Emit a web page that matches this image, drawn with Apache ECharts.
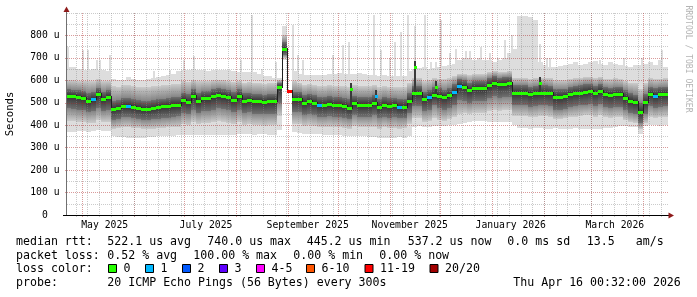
<!DOCTYPE html>
<html>
<head>
<meta charset="utf-8">
<script src="https://cdn.jsdelivr.net/npm/echarts@6/dist/echarts.min.js"></script>
<style>html,body{margin:0;padding:0;background:#fff}#chart{width:697px;height:297px}</style>
</head>
<body>
<div id="chart"></div>
<script>
// ---------------- DATA ----------------
const DAY = 86400000;
const axisMin = Date.UTC(2025, 3, 21, 16, 0);
const axisMax = Date.UTC(2026, 3, 16, 0, 32);
const columnDays = 3;               // one smoke column = 3 days
const columnCount = 120;

// median RTT per column (microseconds)
const median = [
 530,528,525,520,510,515,538,518,526,474,
 478,487,487,482,478,472,472,477,480,484,
 486,490,492,512,505,530,510,520,522,528,
 535,530,526,514,530,510,513,508,507,502,
 508,508,572,740,553,515,515,500,508,500,
 490,490,495,490,490,485,478,500,490,490,
 490,500,483,490,486,488,480,483,510,542,
 542,515,525,535,532,525,535,550,575,570,
 558,567,565,565,580,590,583,585,587,545,
 545,545,537,542,545,545,542,525,525,528,
 537,542,545,550,553,543,553,537,535,540,
 538,522,508,502,458,505,540,532,537,540];
// lowest ping of the column
const pingMin = [
 372,370,375,376,372,375,378,376,374,352,
 348,346,345,345,344,344,346,348,350,350,
 352,352,355,355,355,356,358,357,356,358,
 358,356,357,358,360,362,360,358,360,360,
 358,358,380,690,null,370,365,362,360,362,
 360,358,356,355,355,352,350,352,350,350,
 348,346,345,344,344,345,346,345,350,392,
 395,394,392,395,396,398,400,402,405,410,
 415,418,418,418,416,415,415,414,415,400,
 388,386,385,386,387,385,384,386,385,385,
 384,386,385,384,384,385,384,386,388,390,
 395,395,392,390,360,398,400,400,398,400];
// lower edge of the medium smoke
const lowerMid = [
 420,418,416,414,410,412,422,414,416,385,
 386,390,390,388,386,382,382,385,386,388,
 390,392,394,405,400,415,404,410,412,415,
 418,415,412,405,414,402,405,400,400,398,
 400,400,440,700,null,405,405,395,400,395,
 390,390,392,390,390,386,382,395,390,390,
 390,394,385,390,386,388,384,386,405,430,
 430,415,420,432,425,420,428,436,452,455,
 450,455,455,455,462,468,464,466,466,440,
 440,440,435,438,440,440,438,428,428,430,
 435,438,440,444,446,438,446,435,434,436,
 435,425,415,410,385,412,438,432,436,438];
// lower edge of the dark core
const lowerDark = [
 475,472,470,466,458,462,478,465,470,425,
 428,435,435,430,428,422,422,426,428,432,
 434,438,440,456,450,470,455,462,465,470,
 475,472,468,458,470,455,458,452,452,448,
 452,452,500,715,null,460,458,446,452,446,
 438,438,442,438,438,434,428,445,438,438,
 438,446,432,438,434,436,430,432,455,485,
 485,462,470,488,476,470,478,490,512,510,
 500,508,506,506,520,528,522,524,526,488,
 488,488,482,486,488,488,486,470,470,472,
 480,485,488,492,495,486,495,480,478,482,
 480,466,454,448,410,450,484,476,480,484];
// upper edge of the dark core
const upperDark = [
 560,558,556,552,545,548,565,550,556,510,
 512,520,520,516,512,508,508,512,515,518,
 520,524,526,545,538,560,542,552,554,560,
 565,560,556,546,560,542,545,540,540,535,
 540,540,590,770,null,548,546,535,540,535,
 525,525,530,525,525,520,515,532,525,525,
 525,533,518,524,520,522,515,518,545,575,
 575,548,558,570,565,558,568,582,605,600,
 590,598,596,596,610,618,612,614,616,578,
 578,578,570,575,578,578,575,560,560,562,
 570,575,578,582,585,576,585,570,568,572,
 570,555,542,536,500,540,572,565,570,572];
// upper edge of the medium smoke
const upperMid = [
 602,600,598,596,595,598,605,598,598,575,
 572,578,580,576,572,570,572,575,576,578,
 580,582,585,595,592,600,596,598,598,600,
 602,600,598,592,598,590,592,590,588,585,
 588,588,600,800,null,595,590,580,585,580,
 575,575,578,576,576,574,570,580,576,575,
 575,580,570,575,572,572,570,572,590,610,
 610,598,602,612,608,605,610,618,630,630,
 625,630,628,628,635,640,636,638,640,612,
 612,612,608,610,612,612,610,600,600,602,
 608,610,612,615,616,610,616,608,606,610,
 608,598,590,586,560,590,610,605,608,610];
// highest ping of the column
const pingMax = [
 660,660,650,648,645,650,648,645,640,605,
 600,600,615,605,600,600,608,612,615,620,
 624,628,640,645,648,650,648,645,640,645,
 646,646,646,640,639,639,639,635,628,620,
 618,612,609,840,null,640,630,625,625,625,
 625,625,628,630,632,630,628,630,631,630,
 625,625,620,622,620,618,620,620,640,650,
 655,660,650,655,660,665,670,675,690,700,
 700,690,700,690,690,680,690,700,720,740,
 885,885,880,870,680,670,660,660,665,670,
 675,680,670,675,680,685,675,670,680,672,
 670,665,660,670,670,675,680,670,690,660];
// lost pings (of 20) per column
const lossCount = [
 0,0,0,0,0,1,0,0,0,0,
 0,0,1,0,0,0,0,0,0,0,
 0,0,0,0,0,0,0,0,0,0,
 0,0,0,0,0,0,0,0,0,0,
 0,0,0,0,15,0,0,0,0,0,
 1,0,0,0,0,0,0,0,0,0,
 0,0,0,0,0,0,1,0,0,0,
 0,0,1,0,0,0,0,1,1,0,
 0,0,0,0,0,0,0,0,0,0,
 0,0,0,0,0,0,0,0,0,0,
 0,0,0,0,0,0,0,0,0,0,
 0,0,0,0,0,0,0,1,0,0];

// thin light-grey outlier spikes above the smoke
const spikeDates = ['2025-04-22','2025-05-01','2025-05-04','2025-05-09','2025-05-11','2025-05-17','2025-06-12','2025-06-22','2025-06-30','2025-07-06','2025-08-03','2025-08-10','2025-08-16','2025-08-24','2025-09-03','2025-09-06','2025-09-09','2025-09-27','2025-10-03','2025-10-07','2025-10-22','2025-10-26','2025-10-31','2025-11-03','2025-11-07','2025-11-11','2025-11-15','2025-11-21','2025-11-25','2025-11-28','2025-12-01','2025-12-06','2025-12-10','2025-12-16','2025-12-18','2025-12-25','2025-12-30','2026-01-04','2026-01-08','2026-01-12','2026-01-29','2026-02-02','2026-02-04','2026-03-06','2026-03-20','2026-03-31','2026-04-12'];
const spikeTops = [750,735,735,690,690,713,640,645,690,710,690,891,650,680,845,713,690,713,757,772,891,735,700,770,815,891,840,891,680,680,870,720,740,730,730,750,720,700,780,800,762,700,700,690,700,700,735];

// short median spikes
const medianSpikeDates = ['2025-10-08','2025-10-23','2025-11-15','2025-11-28','2026-01-29'];
const medianSpikeValues = [561,532,660,569,590];
const medianSpikeLoss = [0,1,0,0,0];

// axis tick labels
const xLabelDates = ['2025-05-14T05:00:00Z','2025-07-13T19:00:00Z','2025-09-12T14:00:00Z','2025-11-12T14:00:00Z','2026-01-12T00:00:00Z','2026-03-15T05:00:00Z'];
const xLabelTexts = ['May 2025','July 2025','September 2025','November 2025','January 2026','March 2026'];
const yMajorTicks = [0,100,200,300,400,500,600,700,800];
const yMinorTicks = [50,150,250,350,450,550,650,750,850,900];

// legend content
const lossLabels = ['0','1','2','3','4-5','6-10','11-19','20/20'];
const lossMaxCount = [0,1,2,3,5,10,19,20];
const lossColors = ['#26ff00','#00b8ff','#0059ff','#5e00ff','#ff00ff','#ff5500','#ff0000','#a10000'];
const rttTexts = ['median rtt:','522.1 us avg','740.0 us max','445.2 us min','537.2 us now','0.0 ms sd','13.5','am/s'];
const lossTexts = ['packet loss:','0.52 % avg','100.00 % max','0.00 % min','0.00 % now'];
const probeTexts = ['probe:','20 ICMP Echo Pings (56 Bytes) every 300s','Thu Apr 16 00:32:00 2026'];

// ---------------- LAYOUT / STYLE ----------------
const MONO = '"DejaVu Sans Mono", monospace';
const MAJOR_GRID = 'rgba(170,30,30,0.45)';
const MINOR_GRID = 'rgba(140,140,140,0.45)';
const LIGHT = '#dddddd', MID_OUT = '#cbcbcb', MID_IN = '#858585', DARK_OUT = '#707070', CORE = '#303030';
const rttX = [16,107.3,207.3,306.7,407.7,507.3,586.7,635.7];
const lossX = [16,107.3,193.3,293.3,379.3];
const probeX = [16,107.3,513.3];
const boxX = [108.5,145.5,182.5,219.5,256.5,306.5,365,430];
const lineY = [241.5,255.5,269,283];

function lossColor(n){
  for (let k = 0; k < lossMaxCount.length; k++) if (n <= lossMaxCount[k]) return lossColors[k];
  return lossColors[lossColors.length-1];
}
function vgrad(top, bottom){
  return {type:'linear',x:0,y:0,x2:0,y2:1,colorStops:[{offset:0,color:top},{offset:1,color:bottom}]};
}

const firstColumnStart = axisMax - columnCount*columnDays*DAY;
const colStart = i => firstColumnStart + i*columnDays*DAY;

const smokeRows = median.map((m,i) => [colStart(i), colStart(i+1), pingMin[i], lowerMid[i], lowerDark[i], m, upperDark[i], upperMid[i], pingMax[i]]);
const medianRows = median.map((m,i) => [colStart(i), colStart(i+1), m, i>0 ? median[i-1] : null, lossCount[i]]);
const spikeRows = spikeDates.map((d,i) => [Date.parse(d+'T12:00:00Z'), spikeTops[i]]);
const medianSpikeRows = medianSpikeDates.map((d,i) => {
  const t = Date.parse(d+'T12:00:00Z');
  const col = Math.floor((t-firstColumnStart)/(columnDays*DAY));
  return [t, median[col], medianSpikeValues[i], medianSpikeLoss[i]];
});

// calendar grid
const monthStarts = [], weekStarts = [];
for (let y=2025, m=4; ; m++) { const t = Date.UTC(y, m, 1); if (t > axisMax) break; monthStarts.push(t); }
for (let t = Date.UTC(2025,3,27); t <= axisMax; t += 7*DAY) weekStarts.push(t);
const xLabelTimes = xLabelDates.map(d => Date.parse(d));
function xLabelFor(v){
  let best = '', bd = Infinity;
  xLabelTimes.forEach((t,i) => { const d = Math.abs(t - v); if (d < bd) { bd = d; best = xLabelTexts[i]; } });
  return bd < DAY ? best : '';
}

function renderSmoke(params, api){
  const v = [2,3,4,5,6,7,8].map(d => api.value(d));
  if (v.some(x => x == null || isNaN(x))) return;
  const x0 = Math.round(api.coord([api.value(0),0])[0]);
  const x1 = Math.round(api.coord([api.value(1),0])[0]);
  const Y = val => Math.round(api.coord([api.value(0), val])[1]);
  const [mn,l1,l2,md,h1,h2,mx] = v;
  const band = (lo, hi, fill) => ({type:'rect', shape:{x:x0, y:Y(hi), width:x1-x0, height:Y(lo)-Y(hi)}, style:{fill}});
  return {type:'group', children:[
    band(h2, mx, LIGHT),
    band(h1, h2, vgrad(MID_OUT, MID_IN)),
    band(md, h1, vgrad(DARK_OUT, CORE)),
    band(l2, md, vgrad(CORE, DARK_OUT)),
    band(l1, l2, vgrad(MID_IN, MID_OUT)),
    band(mn, l1, LIGHT)
  ]};
}
function renderMedian(params, api){
  const md = api.value(2), prev = api.value(3), loss = api.value(4);
  if (md == null || isNaN(md)) return;
  const x0 = Math.round(api.coord([api.value(0),0])[0]);
  const x1 = Math.round(api.coord([api.value(1),0])[0]);
  const y = Math.round(api.coord([api.value(0), md])[1]);
  const ch = [];
  if (prev != null && !isNaN(prev)) {
    const yp = Math.round(api.coord([api.value(0), prev])[1]);
    ch.push({type:'rect', shape:{x:x0, y:Math.min(y,yp)-1, width:1, height:Math.abs(y-yp)+2}, style:{fill:'#202020'}});
  }
  ch.push({type:'rect', shape:{x:x0, y:y-1, width:x1-x0, height:3}, style:{fill:lossColor(loss)}});
  return {type:'group', children:ch};
}
function renderSpike(params, api){
  const x = Math.round(api.coord([api.value(0),0])[0]);
  const yt = Math.round(api.coord([api.value(0), api.value(1)])[1]);
  const yb = Math.round(api.coord([api.value(0), 500])[1]);
  return {type:'rect', shape:{x:x-1, y:yt, width:2, height:yb-yt}, style:{fill:LIGHT}};
}
function renderMedianSpike(params, api){
  const x = Math.round(api.coord([api.value(0),0])[0]);
  const yb = Math.round(api.coord([api.value(0), api.value(1)])[1]);
  const yt = Math.round(api.coord([api.value(0), api.value(2)])[1]);
  return {type:'group', children:[
    {type:'rect', shape:{x:x-1, y:yt-6, width:2, height:yb-yt+6}, style:{fill:'#3a3a3a'}},
    {type:'rect', shape:{x:x-1, y:yt-1, width:3, height:3}, style:{fill:lossColor(api.value(3))}}
  ]};
}

// graphic (texts, legend, arrows)
const txt = (x, y, text) => ({type:'text', x, y, z:10, style:{text, fill:'#000', fontFamily:MONO, fontSize:11.6, align:'left', verticalAlign:'middle'}});
const graphics = [];
rttTexts.forEach((t,i) => graphics.push(txt(rttX[i], lineY[0], t)));
lossTexts.forEach((t,i) => graphics.push(txt(lossX[i], lineY[1], t)));
graphics.push(txt(16, lineY[2], 'loss color:'));
lossLabels.forEach((t,i) => {
  graphics.push({type:'rect', z:10, shape:{x:boxX[i], y:lineY[2]-4.5, width:8, height:8}, style:{fill:lossColors[i], stroke:'#000', lineWidth:1}});
  graphics.push(txt(boxX[i]+15, lineY[2], t));
});
probeTexts.forEach((t,i) => graphics.push(txt(probeX[i], lineY[3], t)));
graphics.push({type:'text', x:10, y:114, rotation:Math.PI/2, z:10, style:{text:'Seconds', fill:'#000', fontFamily:MONO, fontSize:10.6, align:'center', verticalAlign:'middle'}});
graphics.push({type:'text', x:688, y:59, rotation:-Math.PI/2, z:10, style:{text:'RRDTOOL / TOBI OETIKER', fill:'#b4b4b4', fontFamily:MONO, fontSize:8.1, align:'center', verticalAlign:'middle'}});
graphics.push({type:'line', z:10, shape:{x1:66.5,y1:215,x2:66.5,y2:10}, style:{stroke:'#707070', lineWidth:1}});
graphics.push({type:'line', z:10, shape:{x1:63,y1:215.5,x2:669,y2:215.5}, style:{stroke:'#000', lineWidth:1}});
graphics.push({type:'polygon', z:11, shape:{points:[[63.5,12],[69.5,12],[66.5,6.5]]}, style:{fill:'#8e1a1a'}});
graphics.push({type:'polygon', z:11, shape:{points:[[668.5,212.5],[668.5,218.5],[674,215.5]]}, style:{fill:'#8e1a1a'}});

const chart = echarts.init(document.getElementById('chart'), null, {renderer:'canvas'});
chart.setOption({
  animation:false,
  backgroundColor:'#ffffff',
  grid:{left:67, right:29, top:13, bottom:82, containLabel:false, outerBoundsMode:'none'},
  xAxis:[
    {type:'value', min:axisMin, max:axisMax, position:'bottom', z:3, scale:true,
     axisLine:{show:false},
     axisTick:{show:true, length:2, customValues:monthStarts, lineStyle:{color:MAJOR_GRID}},
     axisLabel:{customValues:xLabelTimes, formatter:v => xLabelFor(v), fontFamily:MONO, fontSize:9.75, color:'#000', margin:5, hideOverlap:false, showMinLabel:true, showMaxLabel:true},
     splitLine:{show:true, lineStyle:{color:MAJOR_GRID, width:1, type:[1,1]}}},
    {type:'value', min:axisMin, max:axisMax, position:'bottom', z:3, scale:true,
     axisLine:{show:false},
     axisTick:{show:true, length:2, customValues:weekStarts, lineStyle:{color:MINOR_GRID}},
     axisLabel:{show:false},
     splitLine:{show:true, lineStyle:{color:MINOR_GRID, width:1, type:[1,1]}}}
  ],
  yAxis:[
    {type:'value', min:0, max:900, position:'left', z:3,
     axisLine:{show:false},
     axisTick:{show:true, length:2, customValues:yMajorTicks, lineStyle:{color:MAJOR_GRID}},
     axisLabel:{customValues:yMajorTicks, formatter:v => v === 0 ? '0  ' : v + ' u', fontFamily:MONO, fontSize:9.75, color:'#000', margin:7.5},
     splitLine:{show:true, lineStyle:{color:MAJOR_GRID, width:1, type:[1,1]}}},
    {type:'value', min:0, max:900, position:'left', z:3,
     axisLine:{show:false},
     axisTick:{show:false, customValues:yMinorTicks},
     axisLabel:{show:false},
     splitLine:{show:true, lineStyle:{color:MINOR_GRID, width:1, type:[1,1]}}}
  ],
  series:[
    {type:'custom', name:'spikes', renderItem:renderSpike, data:spikeRows, encode:{x:0, y:1}, clip:true, z:1, silent:true},
    {type:'custom', name:'smoke', renderItem:renderSmoke, data:smokeRows, encode:{x:[0,1], y:[2,8]}, clip:true, z:2, silent:true},
    {type:'custom', name:'medianSpikes', renderItem:renderMedianSpike, data:medianSpikeRows, encode:{x:0, y:[1,2]}, clip:true, z:4, silent:true},
    {type:'custom', name:'median', renderItem:renderMedian, data:medianRows, encode:{x:[0,1], y:2}, clip:true, z:5, silent:true}
  ],
  graphic:graphics
});
</script>
</body>
</html>
